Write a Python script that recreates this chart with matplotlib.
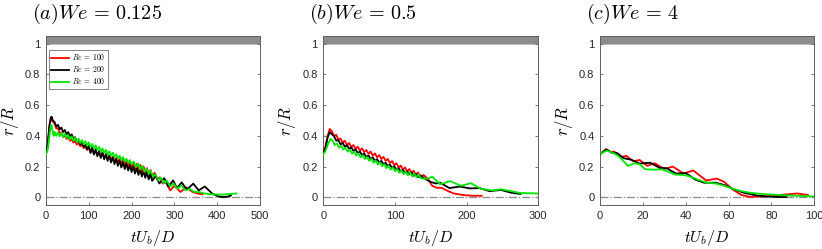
import matplotlib
matplotlib.use("Agg")
import matplotlib.pyplot as plt

# ---------------- data ----------------
panel_titles = [r"$(a)We\,=\,0.125$", r"$(b)We\,=\,0.5$", r"$(c)We\,=\,4$"]
series_labels = [r"$Re\,=\,100$", r"$Re\,=\,200$", r"$Re\,=\,400$"]
x_limits = [500, 300, 100]
x_ticks = [[0, 100, 200, 300, 400, 500], [0, 100, 200, 300], [0, 20, 40, 60, 80, 100]]
y_ticks = [0, 0.2, 0.4, 0.6, 0.8, 1]

# panel (a) We = 0.125
a_t_re100 = [0, 4, 8, 11, 14, 20, 24, 28, 32, 36, 40, 44, 48, 52, 56, 60, 64, 68, 72, 76, 80,
             84, 88, 92, 96, 100, 104, 108, 112, 116, 120, 124, 128, 132, 136, 140, 144, 148,
             152, 156, 160, 164, 168, 172, 176, 180, 184, 188, 192, 196, 200, 204, 208, 212,
             216, 220, 224, 228, 232, 236, 240, 244, 248, 254, 260, 266, 273, 280, 290, 300,
             314, 328, 342, 354, 365]
a_r_re100 = [0.28, 0.33, 0.45, 0.52, 0.50, 0.478, 0.448, 0.450, 0.420, 0.422, 0.392, 0.402,
             0.380, 0.390, 0.368, 0.378, 0.356, 0.366, 0.344, 0.354, 0.332, 0.342, 0.320, 0.330,
             0.308, 0.322, 0.293, 0.312, 0.284, 0.303, 0.274, 0.293, 0.265, 0.285, 0.257, 0.277,
             0.249, 0.269, 0.241, 0.262, 0.235, 0.256, 0.229, 0.249, 0.214, 0.250, 0.206, 0.242,
             0.198, 0.234, 0.190, 0.226, 0.182, 0.218, 0.174, 0.210, 0.166, 0.201, 0.155, 0.190,
             0.144, 0.178, 0.133, 0.160, 0.118, 0.130, 0.090, 0.100, 0.045, 0.075, 0.035, 0.065,
             0.035, 0.025, 0.020]

a_t_re200 = [0, 4, 8, 11, 13, 16, 20, 24, 28, 32, 36, 40, 44, 48, 52, 56, 60, 64, 68, 72, 76,
             80, 84, 88, 92, 96, 100, 104, 108, 112, 116, 120, 124, 128, 132, 136, 140, 144,
             148, 152, 156, 160, 164, 168, 172, 176, 180, 184, 188, 192, 196, 200, 204, 208,
             212, 216, 220, 224, 228, 232, 236, 240, 244, 248, 256, 265, 276, 286, 297, 306,
             317, 329, 344, 357, 371, 388, 402, 414, 424, 432]
a_r_re200 = [0.30, 0.35, 0.47, 0.51, 0.525, 0.50, 0.490, 0.461, 0.472, 0.443, 0.454, 0.425,
             0.438, 0.411, 0.424, 0.397, 0.410, 0.381, 0.392, 0.363, 0.374, 0.345, 0.357, 0.329,
             0.341, 0.313, 0.335, 0.289, 0.324, 0.278, 0.313, 0.267, 0.301, 0.256, 0.292, 0.247,
             0.282, 0.237, 0.272, 0.227, 0.262, 0.216, 0.250, 0.205, 0.239, 0.194, 0.229, 0.184,
             0.219, 0.175, 0.210, 0.165, 0.200, 0.155, 0.191, 0.146, 0.181, 0.136, 0.171, 0.127,
             0.162, 0.117, 0.152, 0.107, 0.140, 0.090, 0.125, 0.070, 0.110, 0.060, 0.097, 0.050,
             0.089, 0.045, 0.071, 0.025, 0.006, 0.002, 0.004, 0.012]

a_t_re400 = [0, 4, 8, 11, 13, 16, 18, 20, 24, 28, 32, 36, 40, 44, 48, 52, 56, 60, 64, 68, 72,
             76, 80, 84, 88, 92, 96, 100, 104, 108, 112, 116, 120, 124, 128, 132, 136, 140,
             144, 148, 152, 156, 160, 164, 168, 172, 176, 180, 184, 188, 192, 196, 200, 205,
             210, 215, 220, 225, 230, 235, 240, 245, 250, 256, 262, 268, 275, 282, 290, 298,
             307, 316, 326, 336, 346, 356, 370, 385, 400, 415, 430, 445]
a_r_re400 = [0.28, 0.31, 0.40, 0.46, 0.47, 0.42, 0.40, 0.427, 0.401, 0.423, 0.397, 0.419,
             0.393, 0.413, 0.385, 0.405, 0.377, 0.397, 0.369, 0.389, 0.361, 0.381, 0.353, 0.373,
             0.345, 0.365, 0.337, 0.357, 0.328, 0.347, 0.319, 0.338, 0.309, 0.328, 0.299, 0.318,
             0.290, 0.309, 0.280, 0.299, 0.271, 0.290, 0.261, 0.280, 0.251, 0.271, 0.242, 0.261,
             0.232, 0.251, 0.223, 0.242, 0.213, 0.233, 0.196, 0.219, 0.182, 0.205, 0.167, 0.189,
             0.151, 0.173, 0.135, 0.150, 0.112, 0.128, 0.092, 0.110, 0.070, 0.090, 0.055, 0.078,
             0.045, 0.055, 0.035, 0.035, 0.025, 0.020, 0.018, 0.018, 0.022, 0.025]

# panel (b) We = 0.5
b_t_re100 = [0, 3, 6, 9, 12, 15, 18, 21, 24, 27, 30, 33, 36, 39, 42, 45, 48, 51, 54, 57, 60,
             63, 66, 69, 72, 75, 78, 81, 84, 87, 90, 93, 96, 99, 102, 105, 108, 111, 114, 117,
             120, 123, 126, 129, 132, 135, 140, 146, 152, 158, 165, 172, 182, 195, 208, 221]
b_r_re100 = [0.30, 0.33, 0.40, 0.445, 0.43, 0.400, 0.407, 0.374, 0.383, 0.356, 0.368, 0.341,
             0.354, 0.327, 0.340, 0.315, 0.330, 0.304, 0.319, 0.294, 0.309, 0.283, 0.298, 0.272,
             0.286, 0.260, 0.275, 0.249, 0.263, 0.237, 0.250, 0.223, 0.236, 0.209, 0.222, 0.194,
             0.207, 0.180, 0.195, 0.169, 0.184, 0.159, 0.173, 0.148, 0.162, 0.137, 0.145, 0.120,
             0.075, 0.062, 0.062, 0.045, 0.025, 0.015, 0.010, 0.010]

b_t_re200 = [0, 3, 6, 9, 12, 15, 18, 21, 24, 27, 30, 33, 36, 39, 42, 45, 48, 51, 54, 57, 60,
             63, 66, 69, 72, 75, 78, 81, 84, 87, 90, 93, 96, 99, 102, 105, 108, 111, 114, 117,
             120, 123, 126, 129, 132, 135, 142, 150, 157, 163, 176, 190, 205, 218, 232, 248,
             262, 275]
b_r_re200 = [0.29, 0.32, 0.39, 0.425, 0.41, 0.398, 0.369, 0.372, 0.345, 0.354, 0.330, 0.339,
             0.316, 0.325, 0.302, 0.311, 0.289, 0.298, 0.276, 0.285, 0.263, 0.272, 0.250, 0.260,
             0.238, 0.248, 0.227, 0.237, 0.215, 0.225, 0.203, 0.213, 0.191, 0.201, 0.180, 0.190,
             0.168, 0.178, 0.158, 0.169, 0.149, 0.161, 0.140, 0.152, 0.131, 0.143, 0.120, 0.100,
             0.090, 0.095, 0.060, 0.070, 0.058, 0.060, 0.040, 0.048, 0.030, 0.022]

b_t_re400 = [0, 3, 6, 10, 13, 16, 19, 22, 25, 28, 31, 34, 37, 40, 43, 46, 49, 52, 55, 58, 61,
             64, 67, 70, 73, 76, 79, 82, 85, 88, 91, 94, 97, 100, 103, 106, 109, 112, 115, 118,
             121, 124, 127, 130, 133, 136, 145, 152, 163, 177, 192, 206, 220, 235, 248, 262,
             275, 300]
b_r_re400 = [0.28, 0.30, 0.34, 0.38, 0.37, 0.340, 0.351, 0.323, 0.336, 0.310, 0.323, 0.297,
             0.310, 0.284, 0.298, 0.272, 0.286, 0.260, 0.275, 0.249, 0.263, 0.237, 0.251, 0.225,
             0.239, 0.213, 0.228, 0.202, 0.216, 0.190, 0.205, 0.180, 0.195, 0.170, 0.185, 0.160,
             0.175, 0.151, 0.167, 0.144, 0.161, 0.138, 0.154, 0.131, 0.148, 0.124, 0.120, 0.135,
             0.085, 0.105, 0.075, 0.092, 0.055, 0.045, 0.052, 0.040, 0.028, 0.025]

# panel (c) We = 4
c_t_re100 = [0, 2.8, 5, 6.7, 9.5, 12.3, 15.5, 18.5, 22, 25.5, 30, 34, 39, 43.5, 49.5, 54.5,
             58, 62, 66, 70, 75, 81, 86, 92, 97]
c_r_re100 = [0.28, 0.313, 0.295, 0.298, 0.262, 0.270, 0.235, 0.243, 0.205, 0.222, 0.185, 0.200,
             0.155, 0.175, 0.110, 0.122, 0.100, 0.050, 0.015, 0.003, 0.005, 0.010, 0.018, 0.025,
             0.015]

c_t_re200 = [0, 3, 5.5, 8, 11, 14.5, 18.5, 23.5, 28, 31, 35.5, 40, 44.5, 48.5, 54, 58, 62, 67,
             73, 78, 84, 87]
c_r_re200 = [0.28, 0.312, 0.290, 0.288, 0.255, 0.245, 0.220, 0.225, 0.190, 0.190, 0.155, 0.158,
             0.115, 0.095, 0.095, 0.080, 0.055, 0.030, 0.012, 0.005, 0.002, 0.002]

c_t_re400 = [0, 3.2, 6, 8.5, 11, 13, 16, 18.5, 21, 25, 29, 32, 35, 39.5, 43, 46, 50, 54, 58,
             62, 66, 70, 75, 80, 88, 95, 100]
c_r_re400 = [0.283, 0.304, 0.290, 0.270, 0.235, 0.205, 0.222, 0.215, 0.183, 0.180, 0.182, 0.165,
             0.148, 0.145, 0.130, 0.113, 0.095, 0.090, 0.075, 0.055, 0.040, 0.030, 0.022, 0.018,
             0.012, 0.008, 0.006]

panels = [
    [(a_t_re100, a_r_re100), (a_t_re200, a_r_re200), (a_t_re400, a_r_re400)],
    [(b_t_re100, b_r_re100), (b_t_re200, b_r_re200), (b_t_re400, b_r_re400)],
    [(c_t_re100, c_r_re100), (c_t_re200, c_r_re200), (c_t_re400, c_r_re400)],
]

# ---------------- style ----------------
plt.rcParams["mathtext.fontset"] = "cm"
plt.rcParams["font.family"] = ["Liberation Sans", "DejaVu Sans"]

colors = ["#ff0000", "#000000", "#00e600"]
axis_color = "#606060"
W, H = 822, 249

fig = plt.figure(figsize=(W / 100, H / 100), dpi=100)

lefts = [46, 323.3, 600]
widths = [214, 215, 214.3]
bottom_px, top_px = 205, 36

for i in range(3):
    ax = fig.add_axes([lefts[i] / W, 1 - bottom_px / H, widths[i] / W, (bottom_px - top_px) / H])
    xmax = x_limits[i]
    for (t, r), c, lab in zip(panels[i], colors, series_labels):
        ax.plot(t, r, color=c, lw=1.3, label=lab, zorder=3)
    # zero reference and the pipe wall band
    ax.axhline(0, color="#8a8a8a", lw=0.9, ls="-.", zorder=2)
    ax.fill_between([0, xmax], 1.0, 1.05, color="#8c8c8c", lw=0, zorder=1)
    ax.axhline(1.0, color="#b0b0b0", lw=0.6, zorder=1)

    ax.set_xlim(0, xmax)
    ax.set_ylim(-0.05, 1.05)
    ax.set_xticks(x_ticks[i])
    ax.set_yticks(y_ticks)
    ax.set_yticklabels(["0", "0.2", "0.4", "0.6", "0.8", "1"])
    ax.tick_params(direction="in", length=2.5, width=0.6, colors=axis_color,
                   labelcolor="#262626", labelsize=8, top=False, right=True, pad=4)
    for s in ax.spines.values():
        s.set_color(axis_color)
        s.set_linewidth(0.7)
    ax.set_xlabel(r"$tU_b/D$", fontsize=11.5, labelpad=5)
    ax.set_ylabel(r"$r/R$", fontsize=12, labelpad=3)

    fig.text((lefts[i] - 14) / W, 1 - 2 / H, panel_titles[i], fontsize=14.5,
             ha="left", va="top")

    if i == 0:
        leg = ax.legend(loc="upper left", bbox_to_anchor=(0.005, 0.925), fontsize=5.5,
                        handlelength=2.4, handletextpad=0.4, labelspacing=0.25,
                        borderpad=0.3, borderaxespad=0.2, fancybox=False, framealpha=1)
        leg.get_frame().set_edgecolor("#707070")
        leg.get_frame().set_linewidth(0.6)

fig.savefig("out.png", dpi=100)
